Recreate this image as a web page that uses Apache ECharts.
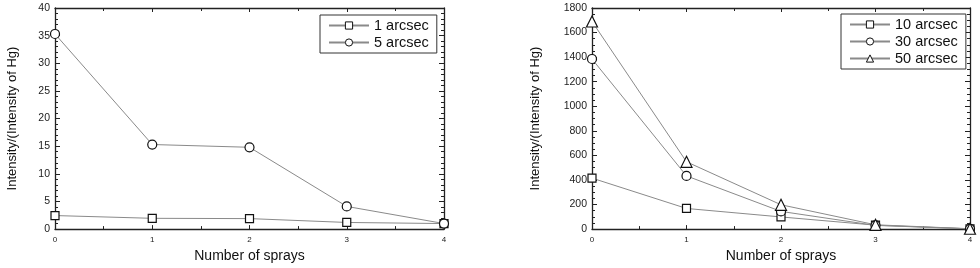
<!DOCTYPE html>
<html><head><meta charset="utf-8">
<script src="https://cdn.jsdelivr.net/npm/echarts@6/dist/echarts.min.js"></script>
<style>html,body{margin:0;padding:0;background:#fff}#c{width:980px;height:268px}</style>
</head><body><div id="c"></div>
<script>
const sprays = [0, 1, 2, 3, 4];
const leftNames = ['1 arcsec', '5 arcsec'];
const arc1 = [2.45, 1.95, 1.9, 1.2, 1.0];
const arc5 = [35.3, 15.3, 14.8, 4.1, 1.0];
const rightNames = ['10 arcsec', '30 arcsec', '50 arcsec'];
const arc10 = [415, 168, 99, 32, 2];
const arc30 = [1385, 433, 144, 30, 2];
const arc50 = [1690, 548, 198, 35, 3];
const leftYTicks = [0, 40, 5];
const rightYTicks = [0, 1800, 200];

const font = 'Liberation Sans, Arial, sans-serif';
const axisCol = '#222';
const lineCol = '#8a8a8a';

function xAxes(gi) {
  return [{
    type: 'value', gridIndex: gi, min: 0, max: 4, interval: 1, position: 'bottom',
    name: 'Number of sprays', nameLocation: 'middle', nameGap: 19,
    nameTextStyle: {fontFamily: font, fontSize: 14, color: '#111'},
    axisLine: {show: true, onZero: false, lineStyle: {color: axisCol, width: 1.3}},
    axisTick: {show: true, inside: true, length: 4, lineStyle: {color: axisCol}},
    minorTick: {show: true, splitNumber: 2, length: 3, lineStyle: {color: axisCol}},
    axisLabel: {fontFamily: font, fontSize: 8, color: '#222', margin: 7},
    splitLine: {show: false}
  }, {
    type: 'value', gridIndex: gi, min: 0, max: 4, interval: 1, position: 'top',
    axisLine: {show: true, onZero: false, lineStyle: {color: axisCol, width: 1.3}},
    axisTick: {show: true, inside: true, length: 4, lineStyle: {color: axisCol}},
    minorTick: {show: true, splitNumber: 2, length: 3, lineStyle: {color: axisCol}},
    axisLabel: {show: false}, splitLine: {show: false}
  }];
}
function yAxes(gi, t, split, gap) {
  return [{
    type: 'value', gridIndex: gi, min: t[0], max: t[1], interval: t[2], position: 'left',
    name: 'Intensity/(Intensity of Hg)', nameLocation: 'middle', nameGap: gap,
    nameTextStyle: {fontFamily: font, fontSize: 13, color: '#111'},
    axisLine: {show: true, onZero: false, lineStyle: {color: axisCol, width: 1.3}},
    axisTick: {show: true, inside: true, length: 5, lineStyle: {color: axisCol}},
    minorTick: {show: true, splitNumber: split, length: 3, lineStyle: {color: axisCol}},
    axisLabel: {fontFamily: font, fontSize: 10.5, color: '#222', margin: 5, formatter: v => String(v)},
    splitLine: {show: false}
  }, {
    type: 'value', gridIndex: gi, min: t[0], max: t[1], interval: t[2], position: 'right',
    axisLine: {show: true, onZero: false, lineStyle: {color: axisCol, width: 1.3}},
    axisTick: {show: true, inside: true, length: 5, lineStyle: {color: axisCol}},
    minorTick: {show: true, splitNumber: split, length: 3, lineStyle: {color: axisCol}},
    axisLabel: {show: false}, splitLine: {show: false}
  }];
}
function ser(name, vals, sym, size, xi, yi) {
  return {
    name: name, type: 'line', xAxisIndex: xi, yAxisIndex: yi,
    data: sprays.map((x, i) => [x, vals[i]]),
    symbol: sym, symbolSize: size, showSymbol: true,
    lineStyle: {color: lineCol, width: 1},
    itemStyle: {color: '#fff', borderColor: '#111', borderWidth: 1.2},
    z: 3
  };
}
const legendBase = {
  orient: 'vertical', backgroundColor: '#fff', borderColor: '#333', borderWidth: 1,
  itemWidth: 40, itemHeight: 9, itemGap: 2, padding: [3, 8, 3, 8],
  itemStyle: {borderWidth: 1},
  textStyle: {fontFamily: font, fontSize: 14.5, color: '#111'}
};
const chart = echarts.init(document.getElementById('c'));
chart.setOption({
  animation: false,
  backgroundColor: '#fff',
  grid: [
    {left: 55, right: 536, top: 8, bottom: 36},
    {left: 592, right: 10, top: 8, bottom: 36}
  ],
  xAxis: [...xAxes(0), ...xAxes(1)],
  yAxis: [...yAxes(0, leftYTicks, 5, 36), ...yAxes(1, rightYTicks, 4, 50)],
  legend: [
    Object.assign({}, legendBase, {data: leftNames, left: 320, top: 15}),
    Object.assign({}, legendBase, {data: rightNames, left: 841, top: 14})
  ],
  series: [
    ser(leftNames[0], arc1, 'rect', 8, 0, 0),
    ser(leftNames[1], arc5, 'circle', 9, 0, 0),
    ser(rightNames[0], arc10, 'rect', 8, 2, 2),
    ser(rightNames[1], arc30, 'circle', 9, 2, 2),
    ser(rightNames[2], arc50, 'triangle', 11, 2, 2)
  ]
});
</script></body></html>
